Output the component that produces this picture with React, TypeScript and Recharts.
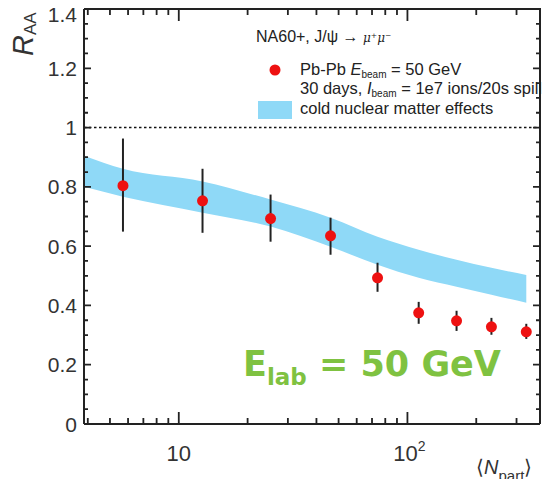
import React from 'react'
import { ComposedChart, Area, Scatter, ErrorBar, XAxis, YAxis, ReferenceLine } from 'recharts'

// measured J/psi points
const npart = [5.7, 12.7, 25.2, 46.1, 74, 112, 164, 233, 331]
const raa = [0.804, 0.753, 0.693, 0.635, 0.493, 0.375, 0.348, 0.328, 0.311]
const errLow = [0.155, 0.108, 0.078, 0.064, 0.047, 0.037, 0.034, 0.027, 0.024]
const errHigh = [0.159, 0.108, 0.081, 0.061, 0.051, 0.037, 0.034, 0.030, 0.027]

// cold nuclear matter band
const bandX = [3.85, 5.7, 12.7, 25.2, 46.1, 74, 112, 164, 233, 331]
const bandLo = [0.8, 0.767, 0.713, 0.666, 0.598, 0.537, 0.493, 0.463, 0.436, 0.409]
const bandHi = [0.905, 0.861, 0.818, 0.757, 0.696, 0.632, 0.588, 0.554, 0.527, 0.503]

const xMinor = [4, 5, 6, 7, 8, 9, 20, 30, 40, 50, 60, 70, 80, 90, 200, 300]
const xMajor = [10, 100]
const yMajor = [0, 0.2, 0.4, 0.6, 0.8, 1, 1.2, 1.4]
const yMinor: number[] = []
for (let i = 0; i <= 28; i++) if (i % 4 !== 0) yMinor.push(Math.round(i * 5) / 100)

const X_DOMAIN = [3.85, 380]
const Y_DOMAIN = [0, 1.4]

const points = npart.map((x, i) => ({ x, raa: raa[i], err: [errLow[i], errHigh[i]] }))
const band = bandX.map((x, i) => ({ x, band: [bandLo[i], bandHi[i]] }))

const W = 557
const H = 487
const MARGIN = { top: 9, right: 17, bottom: 23, left: 0 }
const X_AXIS_H = 40
const Y_AXIS_W = 84
// plot box (same numbers the chart uses for its layout)
const PL = MARGIN.left + Y_AXIS_W
const PR = W - MARGIN.right
const PT = MARGIN.top
const PB = H - MARGIN.bottom - X_AXIS_H

const AXIS = '#333'
const FONT = '"Liberation Sans", Arial, sans-serif'

// frame tick positions, matching the log x scale and linear y scale
const fx = (v: number) =>
  PL +
  ((Math.log10(v) - Math.log10(X_DOMAIN[0])) /
    (Math.log10(X_DOMAIN[1]) - Math.log10(X_DOMAIN[0]))) *
    (PR - PL)
const fy = (v: number) => PB - ((v - Y_DOMAIN[0]) / (Y_DOMAIN[1] - Y_DOMAIN[0])) * (PB - PT)

const XLabel = (props: any) => {
  const { x, y, payload } = props
  if (payload.value === 10)
    return (
      <text x={x} y={y + 37} textAnchor="middle" fontFamily={FONT} fontSize={22} fill={AXIS}>
        10
      </text>
    )
  return (
    <text x={x + 2} y={y + 37} textAnchor="middle" fontFamily={FONT} fontSize={22} fill={AXIS}>
      10
      <tspan fontSize={14} dy={-10}>
        2
      </tspan>
    </text>
  )
}

const YLabel = (props: any) => {
  const { x, y, payload } = props
  const v = payload.value
  return (
    <text
      x={x - 7}
      y={y + (v > 1.3 ? 5 : 0)}
      textAnchor="end"
      dominantBaseline="central"
      fontFamily={FONT}
      fontSize={21}
      fill={AXIS}
    >
      {String(Math.round(v * 10) / 10)}
    </text>
  )
}

const Dot = (props: any) => {
  const { cx, cy } = props
  return <circle cx={cx} cy={cy} r={5.5} fill="#ee1111" />
}

function Frame() {
  const xt = (v: number, len: number) => `M${fx(v)},${PB}v${-len}M${fx(v)},${PT}v${len}`
  const yt = (v: number, len: number) => `M${PL},${fy(v)}h${len}M${PR},${fy(v)}h${-len}`
  const d = [
    ...xMajor.map((v) => xt(v, 12)),
    ...xMinor.map((v) => xt(v, 6)),
    ...yMajor.map((v) => yt(v, 7)),
    ...yMinor.map((v) => yt(v, 4)),
  ].join('')
  return (
    <g>
      <path
        d={`M${PL},${PT}H${PR}V${PB}`}
        fill="none"
        stroke="#222"
        strokeWidth={2}
      />
      <path d={d} stroke="#222" strokeWidth={1.8} fill="none" />
    </g>
  )
}

export default function App() {
  return (
    <div style={{ position: 'relative', width: W, height: H, margin: -8 }}>
      <ComposedChart width={W} height={H} data={band} margin={MARGIN}>
        <XAxis
          dataKey="x"
          type="number"
          scale="log"
          domain={X_DOMAIN}
          allowDataOverflow
          ticks={xMajor}
          interval={0}
          tick={<XLabel />}
          tickLine={false}
          tickSize={0}
          tickMargin={0}
          height={X_AXIS_H}
          axisLine={{ stroke: '#222', strokeWidth: 2 }}
        />
        <YAxis
          type="number"
          domain={Y_DOMAIN}
          allowDataOverflow
          ticks={yMajor}
          interval={0}
          tick={<YLabel />}
          tickLine={false}
          tickSize={0}
          tickMargin={0}
          width={Y_AXIS_W}
          axisLine={{ stroke: '#222', strokeWidth: 2 }}
        />
        <Area
          dataKey="band"
          type="monotone"
          stroke="none"
          fill="#8fd9f7"
          fillOpacity={1}
          isAnimationActive={false}
        />
        <ReferenceLine y={1} stroke="#111" strokeWidth={1.5} strokeDasharray="2.5 2.5" />
        <Scatter data={points} dataKey="raa" shape={<Dot />} isAnimationActive={false}>
          <ErrorBar dataKey="err" direction="y" width={0} stroke="#222" strokeWidth={2} />
        </Scatter>
      </ComposedChart>

      <svg
        width={W}
        height={H}
        style={{ position: 'absolute', left: 0, top: 0, pointerEvents: 'none' }}
      >
        <Frame />

        {/* y axis title */}
        <text transform="translate(33,56) rotate(-90)" fontFamily={FONT} fill={AXIS}>
          <tspan fontSize={29} fontStyle="italic">
            R
          </tspan>
          <tspan fontSize={17} dy={3}>
            AA
          </tspan>
        </text>
        {/* x axis title */}
        <text x={476} y={474} fontFamily={FONT} fontSize={20} fill={AXIS}>
          ⟨<tspan fontStyle="italic">N</tspan>
          <tspan fontSize={15} dy={7}>
            part
          </tspan>
          <tspan dy={-7}>⟩</tspan>
        </text>

        {/* legend */}
        <g fontFamily={FONT} fill="#222">
          <text x={256} y={42} fontSize={16}>
            NA60+, J/ψ →{' '}
            <tspan fontSize={12} fontStyle="italic" fontFamily="'DejaVu Serif', serif">
              μ⁺μ⁻
            </tspan>
          </text>
          <circle cx={275} cy={70} r={5.5} fill="#ee1111" />
          <text x={300} y={75} fontSize={16.5}>
            Pb-Pb <tspan fontStyle="italic">E</tspan>
            <tspan fontSize={10} dy={3}>
              beam
            </tspan>
            <tspan dy={-3}> = 50 GeV</tspan>
          </text>
          <text x={300} y={94} fontSize={16.5}>
            30 days, <tspan fontStyle="italic">I</tspan>
            <tspan fontSize={10} dy={3}>
              beam
            </tspan>
            <tspan dy={-3}> = 1e7 ions/20s spill</tspan>
          </text>
          <rect x={258} y={101} width={34} height={18} fill="#8fd9f7" />
          <text x={300} y={114} fontSize={16.5}>
            cold nuclear matter effects
          </text>
        </g>

        {/* energy annotation */}
        <text
          x={243}
          y={376}
          fontFamily="'DejaVu Sans', Verdana, sans-serif"
          fontWeight="bold"
          fontSize={35}
          fill="#7fc241"
        >
          E
          <tspan fontSize={23} dy={9}>
            lab
          </tspan>
          <tspan dy={-9}> = 50 GeV</tspan>
        </text>
      </svg>
    </div>
  )
}
